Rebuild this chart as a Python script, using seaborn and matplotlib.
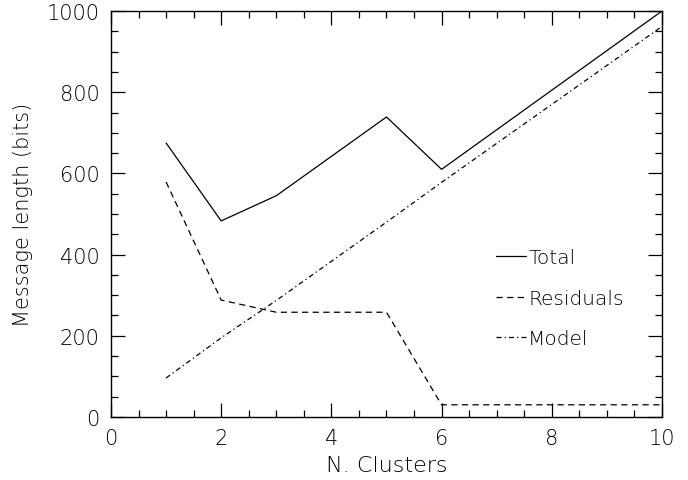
import matplotlib
matplotlib.use("Agg")
import matplotlib.pyplot as plt
import seaborn as sns
import pandas as pd
from matplotlib.ticker import MultipleLocator

n_clusters = [1, 2, 3, 5, 6, 10]
total = [675, 483, 545, 739, 610, 1000]
residuals = [579, 288, 258, 258, 30, 30]
model = [96, 195, 287, 480, 578, 962]
series_names = ["Total", "Residuals", "Model"]

sns.set_style("ticks")
plt.rcParams['font.family'] = ['DejaVu Sans']
plt.rcParams['font.weight'] = 'light'
plt.rcParams['axes.labelweight'] = 'light'
plt.rcParams['text.color'] = 'black'
plt.rcParams['axes.labelcolor'] = 'black'
plt.rcParams['xtick.labelcolor'] = 'black'
plt.rcParams['ytick.labelcolor'] = 'black'

df = pd.DataFrame({
    "N. Clusters": n_clusters * 3,
    "value": total + residuals + model,
    "series": [series_names[0]] * len(n_clusters)
              + [series_names[1]] * len(n_clusters)
              + [series_names[2]] * len(n_clusters),
})

fig = plt.figure(figsize=(6.88, 4.81), dpi=100)
ax = fig.add_axes([0.1613, 0.131, 0.8009, 0.844])

for name in series_names:
    sub = df[df["series"] == name]
    sns.lineplot(data=sub, x="N. Clusters", y="value", ax=ax, color="black",
                 linewidth=0.9, label=name, estimator=None, sort=False)
lines = ax.get_lines()
lines[1].set_dashes([5, 3.5])
lines[2].set_dashes([4, 2.5, 1, 2.5])

ax.set_xlim(0, 10)
ax.set_ylim(0, 1000)
ax.xaxis.set_major_locator(MultipleLocator(2))
ax.xaxis.set_minor_locator(MultipleLocator(0.5))
ax.yaxis.set_major_locator(MultipleLocator(200))
ax.yaxis.set_minor_locator(MultipleLocator(50))
ax.tick_params(which="both", direction="in", top=True, right=True,
               color="black", width=0.9)
ax.tick_params(which="major", length=10, labelsize=15, pad=8)
ax.tick_params(which="minor", length=5)
for sp in ax.spines.values():
    sp.set_linewidth(1.0)
    sp.set_color("black")
ax.set_xlabel("N. Clusters", fontsize=16, labelpad=5, fontweight="light")
ax.set_ylabel("Message length (bits)", fontsize=15, labelpad=10, fontweight="light")

leg = ax.legend(loc="upper left", bbox_to_anchor=(0.684, 0.435), frameon=False,
                fontsize=14.5, handlelength=1.5, handletextpad=0.1,
                labelspacing=1.05, borderaxespad=0)

fig.savefig("out.png", dpi=100)
